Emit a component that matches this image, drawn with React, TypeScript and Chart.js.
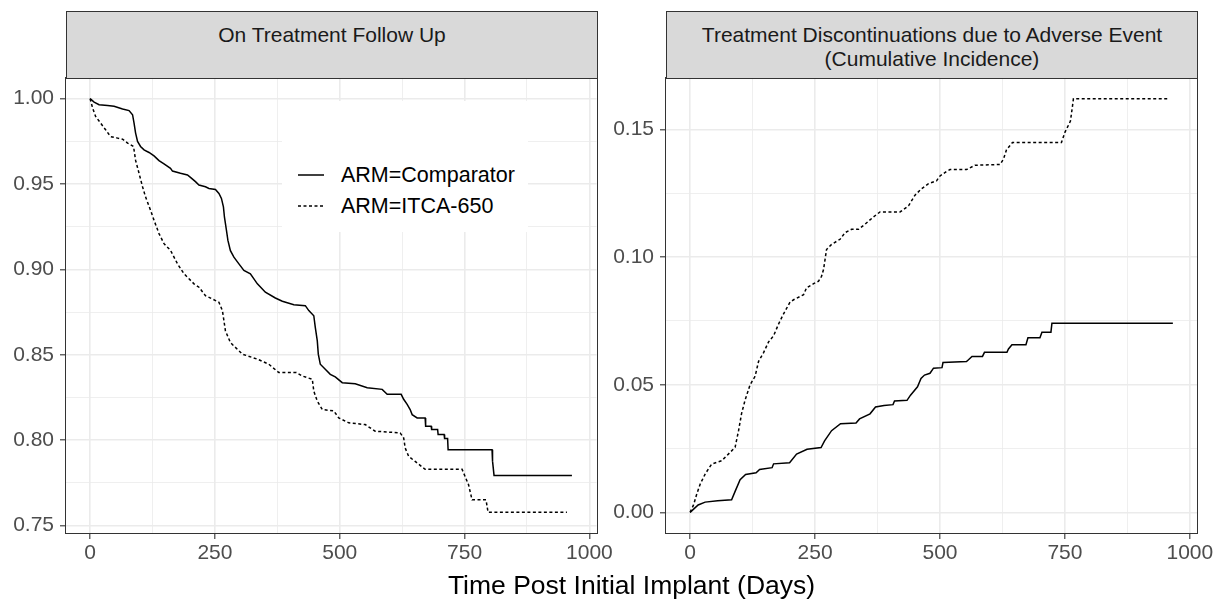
import React, { useEffect, useRef } from "react";
import { Chart, registerables } from "chart.js";

Chart.register(...registerables);

// ---------- data ----------
const panelTitleLeft = ["On Treatment Follow Up"];
const panelTitleRight = ["Treatment Discontinuations due to Adverse Event", "(Cumulative Incidence)"];
const seriesNames = ["ARM=Comparator", "ARM=ITCA-650"];
const xAxisTitle = "Time Post Initial Implant (Days)";

const xTickValues = [0, 125, 250, 375, 500, 625, 750, 875, 1000];
const survTickValues = [0.75, 0.775, 0.8, 0.825, 0.85, 0.875, 0.9, 0.925, 0.95, 0.975, 1.0];
const ciTickValues = [0, 0.025, 0.05, 0.075, 0.1, 0.125, 0.15];

// Left panel: On treatment follow up (survival)
const survCompDays = [0, 8, 18, 35, 48, 65, 78, 85, 88, 91, 95, 101, 108, 118, 128, 138, 148, 161, 165, 181, 195, 201, 211, 218, 231, 238, 251, 258, 263, 267, 269, 273, 276, 281, 288, 298, 308, 321, 335, 351, 371, 385, 408, 431, 438, 448, 451, 455, 457, 461, 471, 481, 491, 505, 531, 555, 585, 595, 623, 628, 635, 641, 645, 655, 671, 672, 683, 684, 696, 697, 709, 710, 716, 717, 805, 806, 809, 965];
const survCompValues = [1.0, 0.998, 0.9965, 0.996, 0.9955, 0.994, 0.993, 0.9906, 0.9857, 0.98, 0.975, 0.972, 0.97, 0.9685, 0.9665, 0.9637, 0.9618, 0.9592, 0.9576, 0.9563, 0.9553, 0.9539, 0.9514, 0.9494, 0.9484, 0.9474, 0.9468, 0.9445, 0.9416, 0.9366, 0.9308, 0.923, 0.917, 0.911, 0.9072, 0.9033, 0.8994, 0.8975, 0.8916, 0.8867, 0.8833, 0.8814, 0.8794, 0.8788, 0.8759, 0.8729, 0.8661, 0.8582, 0.8504, 0.8445, 0.8416, 0.8386, 0.8371, 0.8337, 0.8331, 0.8308, 0.8298, 0.8269, 0.8269, 0.824, 0.821, 0.818, 0.815, 0.8131, 0.8131, 0.8082, 0.8082, 0.8063, 0.8063, 0.8033, 0.8033, 0.801, 0.801, 0.7945, 0.7945, 0.7878, 0.7794, 0.7794];

const survItcaDays = [0, 5, 11, 21, 31, 41, 55, 65, 75, 87, 91, 98, 105, 111, 121, 128, 138, 148, 161, 175, 188, 208, 218, 231, 258, 265, 271, 281, 305, 335, 358, 378, 413, 425, 445, 448, 455, 465, 488, 498, 518, 551, 571, 621, 628, 631, 638, 651, 671, 745, 751, 758, 765, 793, 797, 955];
const survItcaValues = [1.0, 0.9945, 0.9896, 0.9857, 0.9818, 0.9778, 0.9769, 0.9763, 0.974, 0.972, 0.964, 0.9563, 0.9484, 0.9425, 0.9347, 0.9288, 0.921, 0.9151, 0.9112, 0.9033, 0.8975, 0.8916, 0.8896, 0.8847, 0.8808, 0.8759, 0.8641, 0.8572, 0.8504, 0.8475, 0.8445, 0.8396, 0.8396, 0.8376, 0.8357, 0.8288, 0.8229, 0.818, 0.8172, 0.8131, 0.8102, 0.8092, 0.8053, 0.8043, 0.8014, 0.7955, 0.7906, 0.7876, 0.783, 0.783, 0.7788, 0.7739, 0.7651, 0.7651, 0.7578, 0.7578];

// Right panel: discontinuations due to AE (cumulative incidence)
const ciCompDays = [0, 16, 30, 55, 83, 90, 100, 111, 132, 139, 164, 167, 199, 213, 234, 262, 269, 283, 301, 332, 339, 360, 371, 388, 406, 409, 434, 441, 455, 462, 469, 480, 487, 504, 506, 553, 557, 564, 585, 589, 634, 637, 644, 672, 676, 700, 704, 722, 724, 966];
const ciCompValues = [0, 0.0029, 0.004, 0.0045, 0.0049, 0.0082, 0.0128, 0.0148, 0.0155, 0.0168, 0.0175, 0.019, 0.0194, 0.0228, 0.0247, 0.0254, 0.028, 0.032, 0.0347, 0.035, 0.0366, 0.0386, 0.0413, 0.0419, 0.0422, 0.0436, 0.0439, 0.0459, 0.0492, 0.0525, 0.0538, 0.0545, 0.0565, 0.0567, 0.0587, 0.0591, 0.0598, 0.0611, 0.0611, 0.0627, 0.0627, 0.064, 0.0657, 0.0657, 0.0684, 0.0684, 0.0706, 0.0706, 0.0741, 0.0741];

const ciItcaDays = [0, 7, 13, 20, 30, 43, 63, 77, 90, 97, 103, 110, 120, 130, 137, 147, 157, 167, 177, 187, 200, 207, 227, 233, 247, 257, 263, 267, 270, 273, 283, 300, 310, 323, 337, 350, 367, 380, 420, 437, 450, 463, 477, 493, 500, 513, 520, 553, 570, 620, 627, 633, 645, 743, 750, 761, 765, 767, 956];
const ciItcaValues = [0, 0.003, 0.007, 0.011, 0.015, 0.0189, 0.0202, 0.0229, 0.0255, 0.0321, 0.0388, 0.044, 0.05, 0.0533, 0.0592, 0.0626, 0.0668, 0.0692, 0.0738, 0.0778, 0.0824, 0.0833, 0.0853, 0.088, 0.0896, 0.0906, 0.0925, 0.0952, 0.0991, 0.103, 0.105, 0.107, 0.1096, 0.1109, 0.1109, 0.1129, 0.1158, 0.1177, 0.1177, 0.1201, 0.1243, 0.1268, 0.1288, 0.1299, 0.1318, 0.1336, 0.1343, 0.1343, 0.136, 0.1363, 0.1384, 0.142, 0.1449, 0.1449, 0.1489, 0.1533, 0.159, 0.1621, 0.1621];

// ---------- styling / layout ----------
const FONT = "'Liberation Sans', Arial, Helvetica, sans-serif";
const PANEL_TOP = 78;
const PANEL_BOTTOM = 533;
const CANVAS_H = 601;

const toPoints = (xs: number[], ys: number[]) => xs.map((x, i) => ({ x, y: ys[i] }));

const panelBorder = {
  id: "panelBorder",
  afterDatasetsDraw(chart: any) {
    const { ctx, chartArea: a } = chart;
    ctx.save();
    ctx.strokeStyle = "#333333";
    ctx.lineWidth = 1;
    const l = Math.round(a.left) - 0.5;
    const t = Math.round(a.top) - 0.5;
    const r = Math.round(a.right) + 0.5;
    const b = Math.round(a.bottom) + 0.5;
    ctx.strokeRect(l, t, r - l, b - t);
    ctx.restore();
  },
};

function makeConfig(
  comp: { x: number; y: number }[],
  itca: { x: number; y: number }[],
  yMin: number,
  yMax: number,
  yTicks: number[],
  rightPad: number
): any {
  const isMajor = (ctx: any) => ctx.index % 2 === 0;
  const gridOpts = {
    color: "#EBEBEB",
    lineWidth: (ctx: any) => (isMajor(ctx) ? 1.6 : 0.8),
    tickColor: (ctx: any) => (isMajor(ctx) ? "#333333" : "rgba(0,0,0,0)"),
    tickLength: 6,
    tickWidth: 1.1,
    drawTicks: true,
  };
  return {
    type: "line",
    data: {
      datasets: [
        {
          label: seriesNames[0],
          data: comp,
          borderColor: "#000000",
          borderWidth: 1.5,
          pointRadius: 0,
          tension: 0,
          fill: false,
        },
        {
          label: seriesNames[1],
          data: itca,
          borderColor: "#000000",
          borderWidth: 1.5,
          borderDash: [3, 2.5],
          pointRadius: 0,
          tension: 0,
          fill: false,
        },
      ],
    },
    options: {
      animation: false,
      responsive: false,
      events: [],
      layout: { autoPadding: false, padding: { top: PANEL_TOP, right: rightPad, left: 0, bottom: 0 } },
      plugins: { legend: { display: false }, tooltip: { enabled: false }, title: { display: false } },
      scales: {
        x: {
          type: "linear",
          min: -48.3,
          max: 1014.3,
          afterBuildTicks: (scale: any) => {
            scale.ticks = xTickValues.map((v) => ({ value: v }));
          },
          afterFit: (scale: any) => {
            scale.height = CANVAS_H - PANEL_BOTTOM;
          },
          grid: gridOpts,
          border: { display: false },
          ticks: {
            autoSkip: false,
            maxRotation: 0,
            padding: 2,
            color: "#4D4D4D",
            font: { family: FONT, size: 21 },
            callback: (v: any, i: number) => (i % 2 === 0 ? String(xTickValues[i]) : ""),
          },
        },
        y: {
          type: "linear",
          min: yMin,
          max: yMax,
          afterBuildTicks: (scale: any) => {
            scale.ticks = yTicks.map((v) => ({ value: v }));
          },
          afterFit: (scale: any) => {
            scale.width = 66;
          },
          grid: gridOpts,
          border: { display: false },
          ticks: {
            autoSkip: false,
            padding: 6,
            color: "#4D4D4D",
            font: { family: FONT, size: 21 },
            callback: (v: any, i: number) => (i % 2 === 0 ? yTicks[i].toFixed(2) : ""),
          },
        },
      },
    },
    plugins: [panelBorder],
  };
}

function Panel(props: { left: number; width: number; config: () => any }) {
  const ref = useRef<HTMLCanvasElement | null>(null);
  useEffect(() => {
    if (!ref.current) return;
    const chart = new Chart(ref.current, props.config());
    return () => chart.destroy();
  }, []);
  return (
    <canvas
      ref={ref}
      width={props.width}
      height={CANVAS_H}
      style={{ position: "absolute", left: props.left, top: 0, width: props.width, height: CANVAS_H, display: "block" }}
    />
  );
}

function Strip(props: { left: number; width: number; lines: string[] }) {
  return (
    <div
      style={{
        position: "absolute",
        left: props.left,
        top: 11,
        width: props.width,
        height: 68,
        boxSizing: "border-box",
        background: "#D9D9D9",
        border: "1px solid #333333",
        paddingTop: 11,
        textAlign: "center",
        fontFamily: FONT,
        fontSize: 21,
        lineHeight: "24px",
        color: "#1A1A1A",
        whiteSpace: "nowrap",
      }}
    >
      {props.lines.map((l, i) => (
        <div key={i}>{l}</div>
      ))}
    </div>
  );
}

function LegendKey(props: { dashed: boolean }) {
  return (
    <svg width={26} height={6} style={{ position: "absolute", left: 16, top: 0 }}>
      <line
        x1={0}
        y1={3}
        x2={26}
        y2={3}
        stroke="#000"
        strokeWidth={1.5}
        strokeDasharray={props.dashed ? "3 2.5" : undefined}
      />
    </svg>
  );
}

export default function App() {
  const leftCfg = () =>
    makeConfig(toPoints(survCompDays, survCompValues), toPoints(survItcaDays, survItcaValues), 0.7457, 1.0121, survTickValues, 615 - 597);
  const rightCfg = () =>
    makeConfig(toPoints(ciCompDays, ciCompValues), toPoints(ciItcaDays, ciItcaValues), -0.0081, 0.1702, ciTickValues, 617 - 597);

  return (
    <div style={{ position: "fixed", left: 0, top: 0, width: 1217, height: 601, background: "#FFFFFF", overflow: "hidden" }}>
      <Panel left={0} width={615} config={leftCfg} />
      <Panel left={600} width={617} config={rightCfg} />
      <Strip left={66} width={532} lines={panelTitleLeft} />
      <Strip left={666} width={532} lines={panelTitleRight} />
      {/* legend inside left panel */}
      <div style={{ position: "absolute", left: 282, top: 101, width: 246, height: 131, background: "#FFFFFF" }}>
        {seriesNames.map((name, i) => (
          <div key={name} style={{ position: "absolute", left: 0, top: 62 + i * 31, width: 246, height: 24 }}>
            <div style={{ position: "absolute", left: 0, top: 9, width: 60, height: 6 }}>
              <LegendKey dashed={i === 1} />
            </div>
            <div
              style={{
                position: "absolute",
                left: 59,
                top: 0,
                fontFamily: FONT,
                fontSize: 21.5,
                lineHeight: "24px",
                color: "#000000",
                whiteSpace: "nowrap",
              }}
            >
              {name}
            </div>
          </div>
        ))}
      </div>
      <div
        style={{
          position: "absolute",
          left: 66,
          width: 1131,
          top: 570,
          textAlign: "center",
          fontFamily: FONT,
          fontSize: 26.5,
          lineHeight: "30px",
          color: "#000000",
          whiteSpace: "nowrap",
        }}
      >
        {xAxisTitle}
      </div>
    </div>
  );
}
